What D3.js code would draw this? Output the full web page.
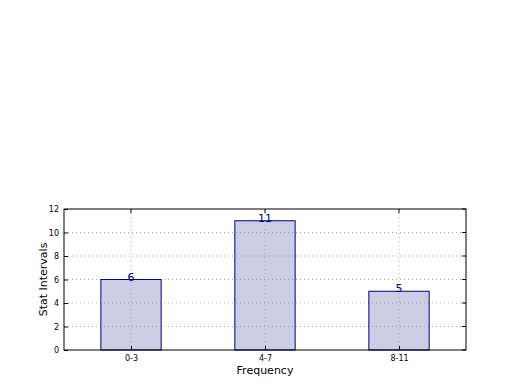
<!DOCTYPE html>
<html>
<head>
<meta charset="utf-8">
<script src="https://cdn.jsdelivr.net/npm/d3@7"></script>
<style>
  body { margin: 0; background: #fff; }
  svg { font-family: "DejaVu Sans", sans-serif; }
</style>
</head>
<body>
<svg id="chart" width="520" height="390"></svg>
<script>
const categories = ["0-3", "4-7", "8-11"];
const counts = [6, 11, 5];
const yTicks = [0, 2, 4, 6, 8, 10, 12];

const width = 520;
const height = 390;
const margin = { top: 209, right: 54, bottom: 40, left: 64 };

const svg = d3.select("#chart");

// x is linear so bars sit at 0,1,2 with half a unit padding
const x = d3.scaleLinear()
  .domain([-0.5, categories.length - 0.5])
  .range([margin.left, width - margin.right]);

const y = d3.scaleLinear()
  .domain([0, 12])
  .range([height - margin.bottom, margin.top]);

const barW = x(0.45) - x(0);

// bar fills
svg.append("g")
  .selectAll("rect")
  .data(counts)
  .enter().append("rect")
  .attr("x", (d, i) => x(i) - barW / 2)
  .attr("y", d => y(d))
  .attr("width", barW)
  .attr("height", d => y(0) - y(d))
  .attr("fill", "#ccccE4");

// grid, drawn over the fills
const grid = svg.append("g");
grid.selectAll("line.h")
  .data(yTicks.slice(1, -1))
  .enter().append("line")
  .attr("x1", margin.left).attr("x2", width - margin.right)
  .attr("y1", d => y(d)).attr("y2", d => y(d))
  .attr("stroke", "#a8a8a8").attr("stroke-dasharray", "1,3");
grid.selectAll("line.v")
  .data(categories)
  .enter().append("line")
  .attr("x1", (d, i) => x(i)).attr("x2", (d, i) => x(i))
  .attr("y1", margin.top).attr("y2", height - margin.bottom)
  .attr("stroke", "#a8a8a8").attr("stroke-dasharray", "1,3");

// bar outlines
svg.append("g")
  .selectAll("rect")
  .data(counts)
  .enter().append("rect")
  .attr("x", (d, i) => x(i) - barW / 2)
  .attr("y", d => y(d))
  .attr("width", barW)
  .attr("height", d => y(0) - y(d))
  .attr("fill", "none")
  .attr("stroke", "#000080")
  .attr("stroke-width", 1);

// value labels
svg.append("g")
  .selectAll("text")
  .data(counts)
  .enter().append("text")
  .text(d => d)
  .attr("x", (d, i) => x(i))
  .attr("y", d => y(d) + 1)
  .attr("text-anchor", "middle")
  .attr("fill", "#000080")
  .attr("font-size", "11px");

// axes
const xAxis = g => g
  .attr("transform", `translate(0, ${height - margin.bottom})`)
  .call(d3.axisBottom(x).tickValues(d3.range(categories.length))
    .tickFormat(i => categories[i]).tickSize(-4).tickSizeOuter(0).tickPadding(5));

const yAxis = g => g
  .attr("transform", `translate(${margin.left}, 0)`)
  .call(d3.axisLeft(y).tickValues(yTicks).tickSize(-4).tickSizeOuter(0).tickPadding(5));

svg.append("g").call(xAxis);
svg.append("g").call(yAxis);

svg.selectAll(".tick text").attr("font-size", "8px").attr("fill", "#000")
  .attr("font-family", "DejaVu Sans");
svg.selectAll(".domain").remove();

// frame
svg.append("rect")
  .attr("x", margin.left).attr("y", margin.top)
  .attr("width", width - margin.left - margin.right)
  .attr("height", height - margin.top - margin.bottom)
  .attr("fill", "none").attr("stroke", "#000").attr("stroke-width", 1);

// right/top ticks
svg.append("g").selectAll("line")
  .data(yTicks)
  .enter().append("line")
  .attr("x1", width - margin.right).attr("x2", width - margin.right - 4)
  .attr("y1", d => y(d)).attr("y2", d => y(d))
  .attr("stroke", "#000");
svg.append("g").selectAll("line")
  .data(categories)
  .enter().append("line")
  .attr("x1", (d, i) => x(i)).attr("x2", (d, i) => x(i))
  .attr("y1", margin.top).attr("y2", margin.top + 4)
  .attr("stroke", "#000");

svg.append("text")
  .text("Frequency")
  .attr("x", (margin.left + width - margin.right) / 2)
  .attr("y", 374)
  .attr("text-anchor", "middle")
  .attr("font-size", "11px");

svg.append("text")
  .text("Stat Intervals")
  .attr("transform", `translate(47, ${(margin.top + height - margin.bottom) / 2}) rotate(-90)`)
  .attr("text-anchor", "middle")
  .attr("font-size", "11px");
</script>
</body>
</html>
